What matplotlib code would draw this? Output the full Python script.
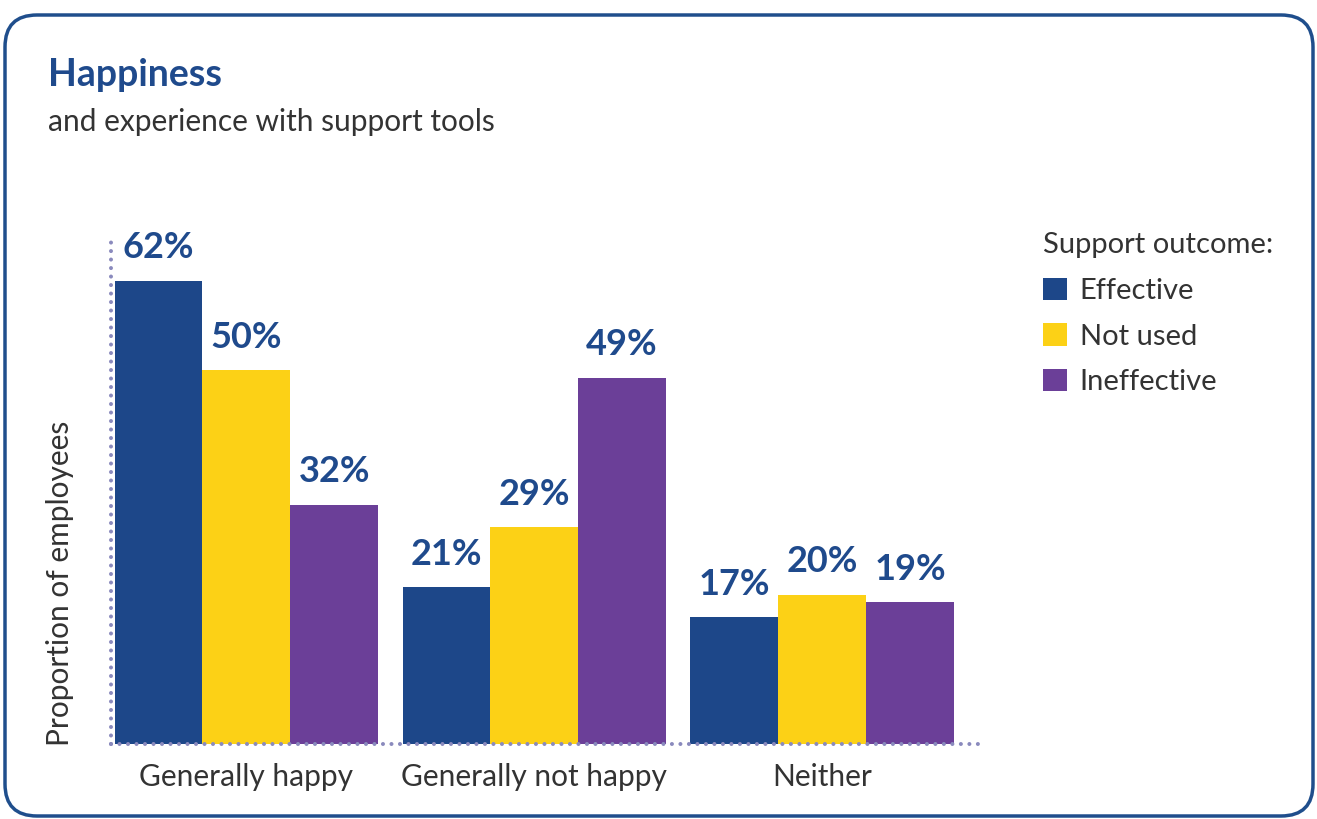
import matplotlib
matplotlib.use("Agg")
import matplotlib.pyplot as plt
import numpy as np
from matplotlib.patches import FancyBboxPatch, Patch

plt.rcParams['font.family'] = ['Lato', 'DejaVu Sans']

# data
categories = ['Generally happy', 'Generally not happy', 'Neither']
series = ['Effective', 'Not used', 'Ineffective']
effective = [62, 21, 17]
not_used = [50, 29, 20]
ineffective = [32, 49, 19]

colors = ['#1d4789', '#fcd116', '#6b3f98']
blue = '#1f4a8c'
dot_col = '#8a8abd'
grey = '#333333'

fig = plt.figure(figsize=(13.17, 8.19), dpi=100)
ax = fig.add_axes([0.0843, 0.0916, 0.6637, 0.6204])

x = np.arange(len(categories))
w = 0.305
for i, (vals, c) in enumerate(zip([effective, not_used, ineffective], colors)):
    pos = x + (i - 1) * w
    ax.bar(pos, vals, width=w, color=c, label=series[i], zorder=2)
    for p, v in zip(pos, vals):
        ax.text(p, v + 2.2, f'{v}%', ha='center', va='bottom', fontsize=26,
                fontweight='bold', color=blue)

ax.set_xlim(-0.47, 2.566)
ax.set_ylim(0, 68)
for s in ax.spines.values():
    s.set_visible(False)
ax.set_yticks([])
ax.set_xticks(x)
ax.set_xticklabels(categories, fontsize=21.5, color=grey)
ax.tick_params(axis='x', length=0, pad=14)

# dotted axis lines
dots = (0, (0.01, 2.1))
ax.plot([-0.47, 2.566], [0, 0], color=dot_col, lw=2.9, ls=dots,
        dash_capstyle='round', clip_on=False, zorder=3)
ax.plot([-0.47, -0.47], [0, 68], color=dot_col, lw=2.9, ls=dots,
        dash_capstyle='round', clip_on=False, zorder=3)

fig.text(60 / 1317, (819 - 746) / 819, 'Proportion of employees', rotation=90,
         ha='center', va='bottom', fontsize=21.5, color=grey)

fig.text(48 / 1317, 1 - 75 / 819, 'Happiness', ha='left', va='center',
         fontsize=27, fontweight='bold', color=blue)
fig.text(48 / 1317, 1 - 122 / 819, 'and experience with support tools',
         ha='left', va='center', fontsize=21.5, color=grey)

handles = [Patch(facecolor=c, label=s) for c, s in zip(colors, series)]
leg = fig.legend(handles=handles, title='Support outcome:', loc='upper left',
                 bbox_to_anchor=(1023 / 1317, 1 - 212 / 819), frameon=False,
                 fontsize=21, title_fontsize=21, handlelength=0.8,
                 handleheight=0.8, handletextpad=0.45, labelspacing=0.66,
                 borderpad=0.2)
leg._legend_box.align = 'left'
for t in leg.get_texts():
    t.set_color(grey)
leg.get_title().set_color(grey)

# rounded frame around the card
frame = FancyBboxPatch((0.05, 0.03), 13.08, 8.01,
                       boxstyle='round,pad=0,rounding_size=0.32',
                       transform=fig.dpi_scale_trans, fill=False,
                       edgecolor='#1f4e8c', lw=2.5)
fig.patches.append(frame)

fig.savefig('out.png', dpi=100)
